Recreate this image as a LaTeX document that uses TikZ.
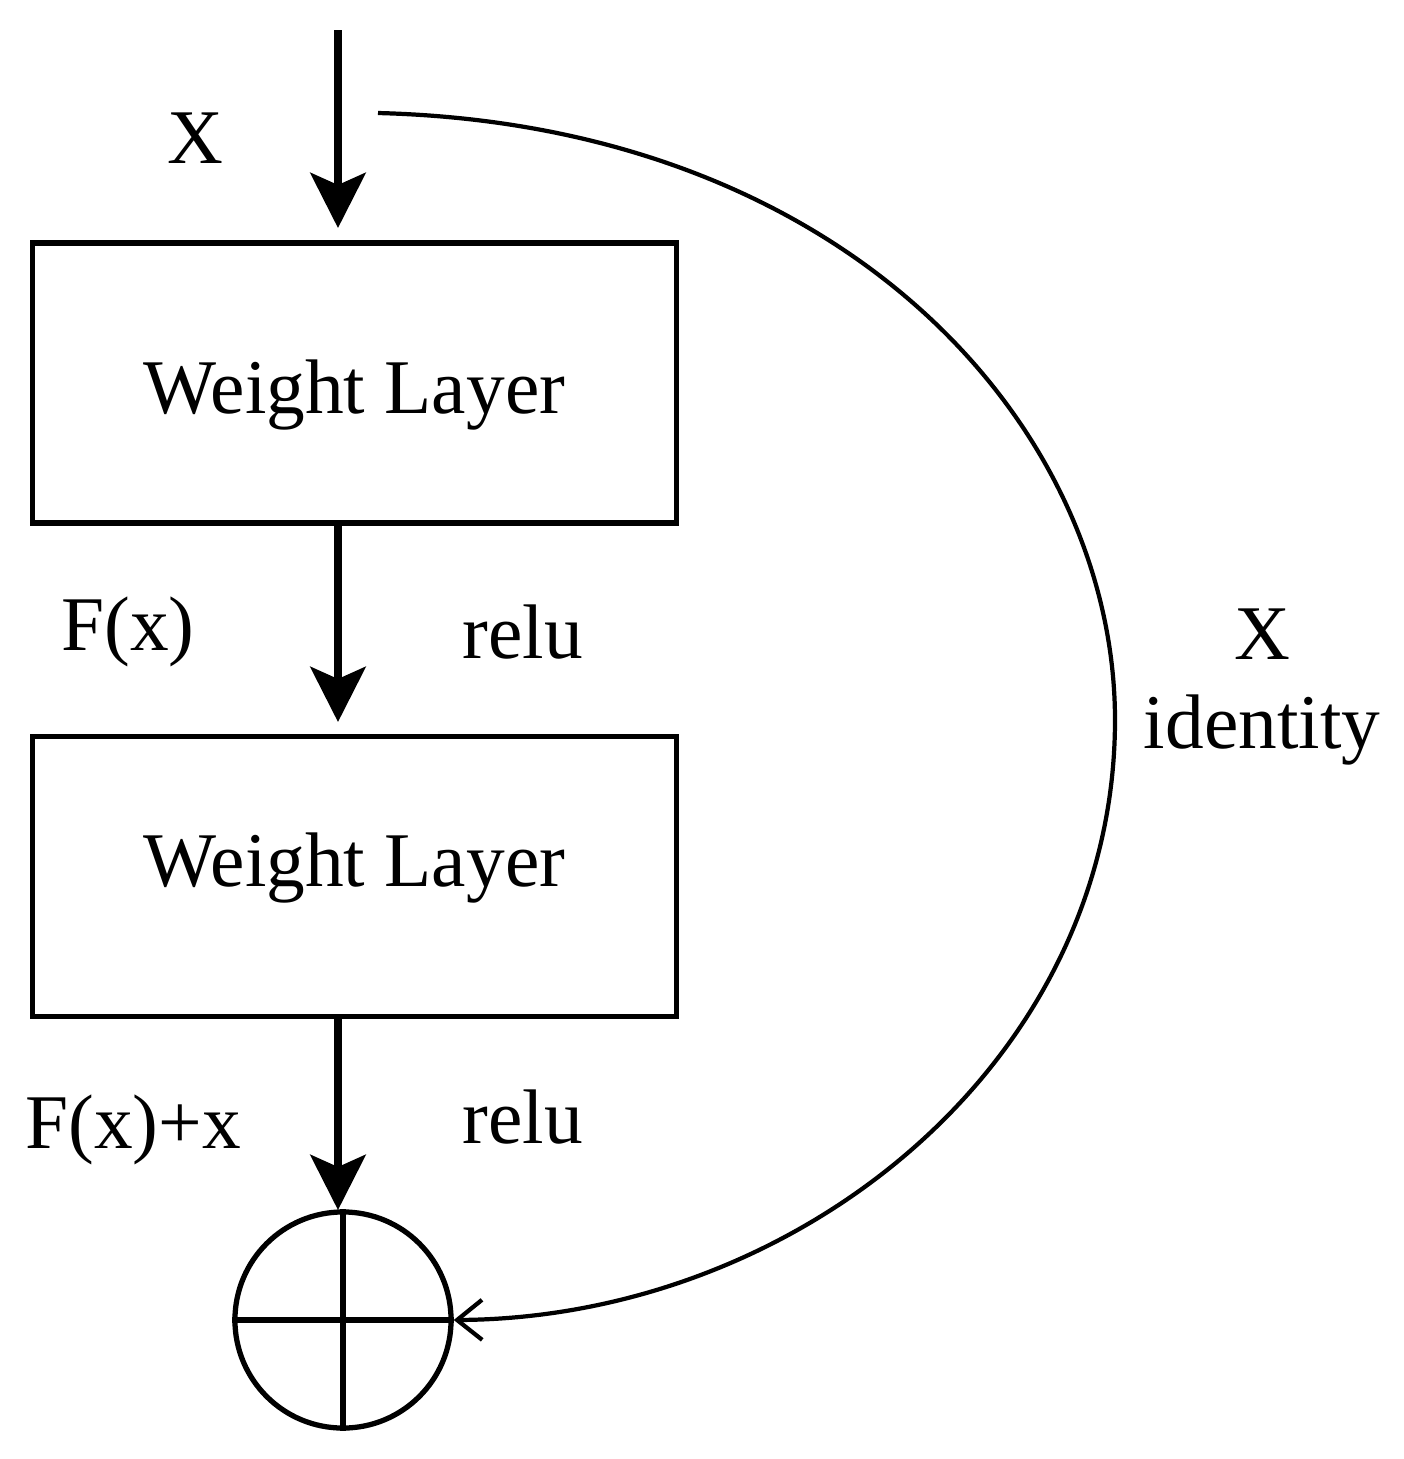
\documentclass[tikz,border=0pt]{standalone}
\usepackage{fontspec}
\setmainfont{Liberation Serif}
\usetikzlibrary{arrows.meta}
\begin{document}
\begin{tikzpicture}[x=0.01cm,y=-0.01cm,
  box/.style={draw,line width=1.5pt,minimum width=6.43cm,minimum height=2.8cm,inner sep=0},
  lbl/.style={font=\fontsize{22}{26}\selectfont,inner sep=0},
  flow/.style={line width=2.4pt,-{Stealth[length=0.55cm,width=0.55cm,inset=0.12cm]}},
  skip/.style={line width=1.2pt,-{Straight Barb[length=0.25cm,width=0.4cm]}}]
\useasboundingbox (0,0) rectangle (1404,1459);
\node[box] (b1) at (354.5,383) {};
\node[lbl] at (354.5,395) {Weight Layer};
\node[box] (b2) at (354.5,876.5) {};
\node[lbl] at (354.5,868) {Weight Layer};
\node[draw,circle,line width=1.5pt,minimum size=2.16cm,inner sep=0] (sum) at (343,1320) {};
\draw[line width=1.5pt] (sum.north) -- (sum.south) (sum.west) -- (sum.east);
\coordinate (in) at (338,30);
\coordinate (skipstart) at (378,113);
\draw[flow] (in) -- (338,228);
\draw[flow] (338,523) -- (338,722);
\draw[flow] (338,1015) -- (338,1210);
\draw[skip] (skipstart) .. controls (850,125) and (1115,430) .. (1115,720)
  .. controls (1115,1060) and (800,1318) .. (sum.east);
\node[lbl] (x1) at (195,138) {X};
\node[lbl] (f1) at (128,632) {F(x)};
\node[lbl] (r1) at (523,632) {relu};
\node[lbl] (f2) at (133,1130) {F(x)+x};
\node[lbl] (r2) at (523,1117) {relu};
\node[lbl] (x2) at (1262,634) {X};
\node[lbl] (id) at (1262,730) {identity};
\end{tikzpicture}
\end{document}
